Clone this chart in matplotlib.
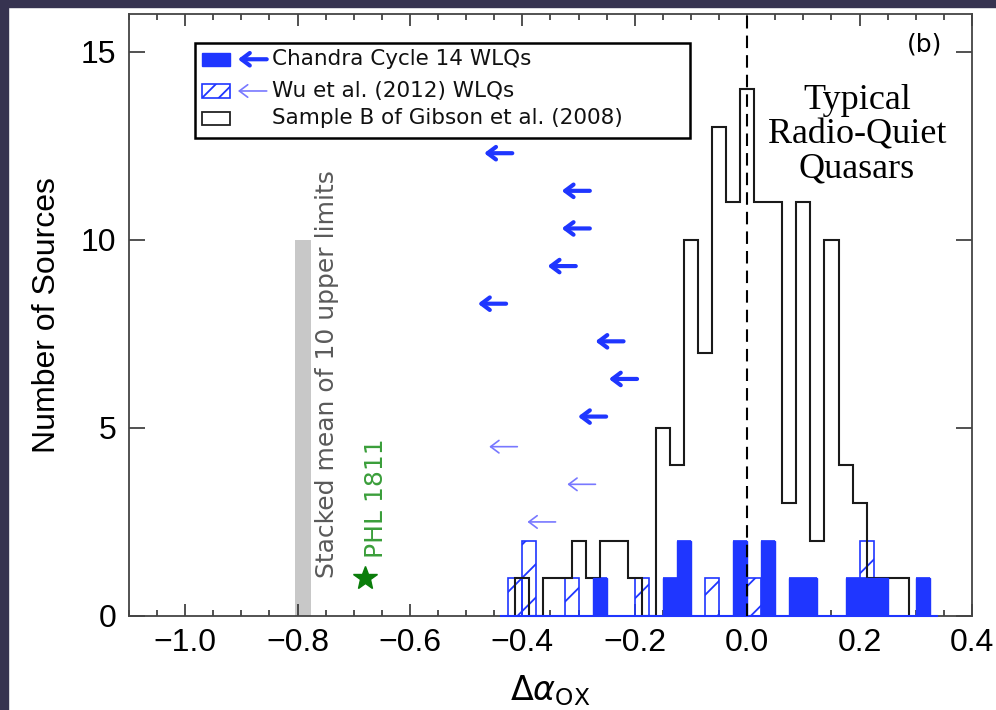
import numpy as np
import matplotlib
matplotlib.use('Agg')
import matplotlib.pyplot as plt
from matplotlib.patches import Rectangle
from matplotlib.ticker import MultipleLocator

# Gibson et al. (2008) Sample B, bins centred on multiples of 0.025
gibson_centers = [-0.400, -0.375, -0.350, -0.325, -0.300, -0.275, -0.250,
                  -0.225, -0.200, -0.175, -0.150, -0.125, -0.100, -0.075,
                  -0.050, -0.025, 0.000, 0.025, 0.050, 0.075, 0.100, 0.125,
                  0.150, 0.175, 0.200, 0.225, 0.250, 0.275]
gibson_counts = [1, 0, 1, 1, 2, 1, 2, 2, 1, 0, 5, 4, 10, 7, 13, 11, 14, 11,
                 11, 3, 11, 2, 10, 4, 3, 1, 1, 1]

# WLQ histograms, left bin edges
wlq_left = [-0.425, -0.400, -0.375, -0.350, -0.325, -0.300, -0.275, -0.250,
            -0.225, -0.200, -0.175, -0.150, -0.125, -0.100, -0.075, -0.050,
            -0.025, 0.000, 0.025, 0.050, 0.075, 0.100, 0.125, 0.150, 0.175,
            0.200, 0.225, 0.250, 0.275, 0.300]
chandra_counts = [0, 0, 0, 0, 0, 0, 1, 0, 0, 0, 0, 1, 2, 0, 0, 0, 2, 0, 2, 0,
                  1, 1, 0, 0, 1, 1, 1, 0, 0, 1]
wu_counts = [1, 2, 0, 0, 1, 0, 0, 0, 0, 1, 0, 0, 0, 0, 1, 0, 0, 1, 0, 0,
             0, 0, 0, 0, 0, 1, 0, 0, 0, 0]

# upper limits (arrows)
chandra_lim_x = [-0.418, -0.280, -0.280, -0.305, -0.429, -0.220, -0.196, -0.251]
chandra_lim_y = [12.3, 11.3, 10.3, 9.3, 8.3, 7.3, 6.3, 5.3]
wu_lim_x = [-0.409, -0.270, -0.341]
wu_lim_y = [4.5, 3.5, 2.5]

stacked_x, stacked_n = -0.79, 10
phl_x, phl_y = -0.680, 1.0

binw = 0.025
blue = '#1f36ff'
lightblue = '#7878ff'

plt.rcParams['font.family'] = 'DejaVu Sans'
plt.rcParams['hatch.linewidth'] = 1.3

fig = plt.figure(figsize=(9.96, 7.10), dpi=100)
ax = fig.add_axes([0.1295, 0.1324, 0.8464, 0.8479])

# dark frame strips of the screenshot
fig.patches.append(Rectangle((0, 1 - 7/710), 1, 7/710, transform=fig.transFigure,
                             color='#363350', zorder=-5))
fig.patches.append(Rectangle((0, 0), 8/996, 1, transform=fig.transFigure,
                             color='#363350', zorder=-5))

# hatched Wu et al. bars stacked on the Chandra ones
ax.bar(wlq_left, wu_counts, width=binw, bottom=chandra_counts, align='edge',
       fill=False, hatch='/', edgecolor=blue, lw=1.2, zorder=2)

# Gibson histogram
g = np.array(gibson_centers)
gedges = np.append(g - binw/2, g[-1] + binw/2)
ax.stairs(gibson_counts, gedges, color='#1a1a1a', lw=1.5, baseline=0, zorder=3)

# Chandra filled bars
ax.bar(wlq_left, chandra_counts, width=binw, align='edge', color=blue,
       edgecolor=blue, lw=1.0, zorder=4)
ax.plot([wlq_left[0] - binw/2, wlq_left[-1] + 1.5*binw], [0, 0], color=blue,
        lw=1.5, zorder=4, clip_on=False)

ax.axvline(0, color='black', lw=1.5, ls=(0, (6, 3.4)), zorder=5)

# upper-limit arrows
for x, y in zip(chandra_lim_x, chandra_lim_y):
    ax.annotate('', xy=(x - 0.05, y), xytext=(x, y),
                arrowprops=dict(arrowstyle='->, head_length=0.6, head_width=0.45',
                                color=blue, lw=3, shrinkA=0, shrinkB=0))
for x, y in zip(wu_lim_x, wu_lim_y):
    ax.annotate('', xy=(x - 0.05, y), xytext=(x, y),
                arrowprops=dict(arrowstyle='->, head_length=0.6, head_width=0.45',
                                color=lightblue, lw=1.2, shrinkA=0, shrinkB=0))

# stacked mean + PHL 1811
ax.bar(stacked_x, stacked_n, width=0.028, color='#c8c8c8', zorder=1)
ax.text(stacked_x + 0.042, 1.0, 'Stacked mean of 10 upper limits', rotation=90,
        ha='center', va='bottom', fontsize=18, color='#5a5a5a')
ax.plot(phl_x, phl_y, marker='*', ms=18, color='#0a7d0a', ls='none')
ax.text(phl_x + 0.02, 1.55, 'PHL 1811', rotation=90, ha='center', va='bottom',
        fontsize=18, color='#3a9e3a')

ax.text(0.8636, 0.799, 'Typical\nRadio-Quiet\nQuasars', transform=ax.transAxes,
        ha='center', va='center', fontsize=26, family='Liberation Serif',
        linespacing=1.05)
ax.text(0.944, 0.9485, '(b)', transform=ax.transAxes, ha='center', va='center',
        fontsize=18)

# legend drawn by hand
ax.add_patch(Rectangle((0.0783, 0.7935), 0.5872, 0.1578, transform=ax.transAxes,
                       fill=False, edgecolor='black', lw=1.8, zorder=6))
rows = [0.9248, 0.8721, 0.8267]
labels = ['Chandra Cycle 14 WLQs', 'Wu et al. (2012) WLQs',
          'Sample B of Gibson et al. (2008)']
ax.add_patch(Rectangle((0.0861, rows[0] - 0.011), 0.0336, 0.022,
                       transform=ax.transAxes, color=blue, zorder=6))
ax.add_patch(Rectangle((0.0861, rows[1] - 0.011), 0.0336, 0.022,
                       transform=ax.transAxes, fill=False, hatch='//',
                       edgecolor=blue, lw=1.2, zorder=6))
ax.add_patch(Rectangle((0.0861, rows[2] - 0.011), 0.0336, 0.022,
                       transform=ax.transAxes, fill=False, edgecolor='#222222',
                       lw=1.3, zorder=6))
for r, c, w in [(rows[0], blue, 3), (rows[1], lightblue, 1.2)]:
    ax.annotate('', xy=(0.1293, r), xytext=(0.1634, r), xycoords='axes fraction',
                arrowprops=dict(arrowstyle='->, head_length=0.6, head_width=0.45',
                                color=c, lw=w, shrinkA=0, shrinkB=0))
for r, t in zip(rows, labels):
    ax.text(0.1696, r, t, transform=ax.transAxes, ha='left', va='center',
            fontsize=15.5, color='#111111')

ax.set_xlim(-1.1, 0.4)
ax.set_ylim(0, 16)
ax.xaxis.set_major_locator(MultipleLocator(0.2))
ax.xaxis.set_minor_locator(MultipleLocator(0.05))
ax.yaxis.set_major_locator(MultipleLocator(5))
ax.yaxis.set_minor_locator(matplotlib.ticker.NullLocator())
ax.xaxis.set_major_formatter(matplotlib.ticker.FuncFormatter(
    lambda v, p: ('%.1f' % v).replace('-', '\u2212')))
ax.tick_params(axis='both', which='both', direction='in', top=True, right=True,
               color='#333333', width=1.2, labelsize=23, pad=9)
ax.tick_params(axis='x', which='major', length=8.5)
ax.tick_params(axis='x', which='minor', length=4.5)
ax.tick_params(axis='y', which='major', length=11.5)
for lab in ax.get_xticklabels() + ax.get_yticklabels():
    lab.set_family('Liberation Sans')
for s in ax.spines.values():
    s.set_color('#444444')
    s.set_linewidth(1.3)

ax.set_ylabel('Number of Sources', fontsize=23, family='Liberation Sans')
ax.yaxis.set_label_coords(-0.079, 0.5)
ax.set_xlabel(r'$\Delta\alpha_{\rm OX}$', fontsize=24)
ax.xaxis.set_label_coords(0.5, -0.095)

fig.savefig('out.png', dpi=100)
